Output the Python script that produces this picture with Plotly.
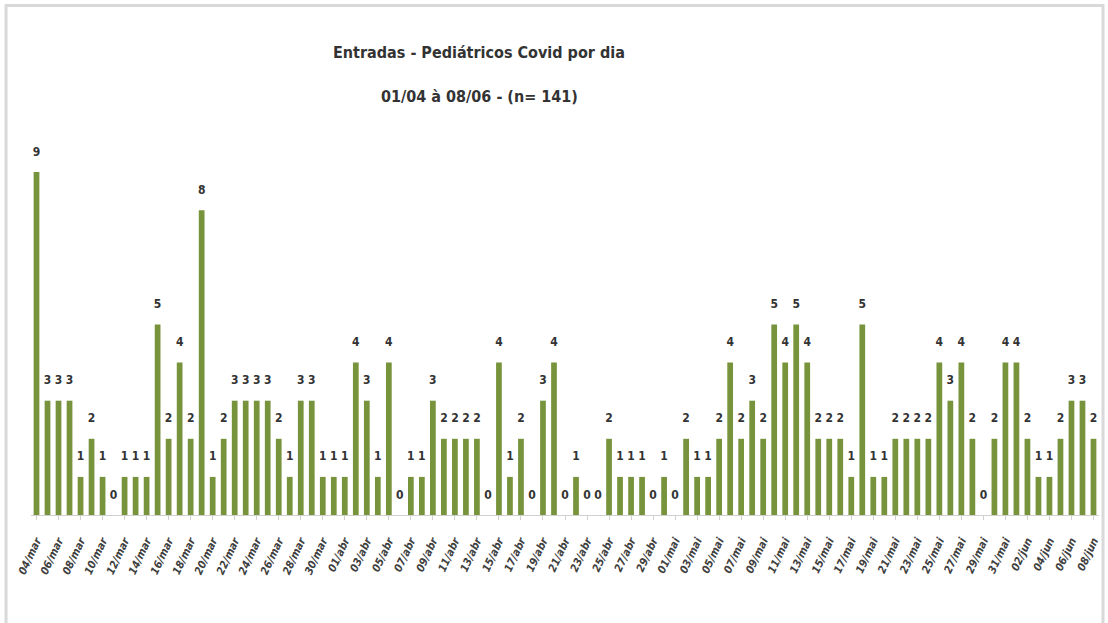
import plotly.graph_objects as go
import pandas as pd

# Data
start_date = "2021-03-04"
end_date = "2021-06-08"
month_pt = {3: "mar", 4: "abr", 5: "mai", 6: "jun"}
values = [9, 3, 3, 3, 1, 2, 1, 0, 1, 1, 1, 5, 2, 4, 2, 8, 1, 2, 3, 3,
          3, 3, 2, 1, 3, 3, 1, 1, 1, 4, 3, 1, 4, 0, 1, 1, 3, 2, 2, 2,
          2, 0, 4, 1, 2, 0, 3, 4, 0, 1, 0, 0, 2, 1, 1, 1, 0, 1, 0, 2,
          1, 1, 2, 4, 2, 3, 2, 5, 4, 5, 4, 2, 2, 2, 1, 5, 1, 1, 2, 2,
          2, 2, 4, 3, 4, 2, 0, 2, 4, 4, 2, 1, 1, 2, 3, 3, 2]
title_line1 = "Entradas - Pediátricos Covid por dia"
title_line2 = "01/04 à 08/06 - (n= 141)"

dates = pd.date_range(start_date, end_date, freq="D")
categories = [f"{d.day:02d}/{month_pt[d.month]}" for d in dates]
tick_labels = categories[::2]

W, H = 1108, 623
ml, mr, mt, mb = 31, 7, 134, 108
pw = W - ml - mr
ph = H - mt - mb

def px_x(x):
    return (x - ml) / pw

def px_y(y):
    return (H - mb - y) / ph

FONT = "DejaVu Sans Condensed, Liberation Sans Narrow, Roboto, sans-serif"

fig = go.Figure()
fig.add_trace(go.Bar(
    x=categories,
    y=values,
    marker=dict(color="#77933C", line=dict(width=0)),
    width=0.52,
    hoverinfo="x+y",
))
# data labels, lifted a little above the bar tops
fig.add_trace(go.Scatter(
    x=categories,
    y=values,
    mode="markers+text",
    marker=dict(size=20, color="rgba(0,0,0,0)"),
    text=[f"<b>{v}</b>" for v in values],
    textposition="top center",
    textfont=dict(family=FONT, size=12, color="#333333"),
    cliponaxis=False,
    hoverinfo="skip",
))

fig.update_layout(
    width=W, height=H,
    margin=dict(l=ml, r=mr, t=mt, b=mb),
    paper_bgcolor="white",
    plot_bgcolor="white",
    showlegend=False,
    font=dict(family=FONT, color="#404040"),
    xaxis=dict(
        type="category",
        tickmode="array",
        tickvals=tick_labels,
        ticktext=[f"<b><i>{t}</i></b>" for t in tick_labels],
        tickangle=-65,
        tickfont=dict(family=FONT, size=11, color="#404040"),
        showline=True, linecolor="#d0d0d0", linewidth=1,
        ticks="outside", ticklen=4, tickcolor="#d0d0d0",
        ticklabelstandoff=10,
        showgrid=False,
        range=[-0.5, len(categories) - 0.5],
    ),
    yaxis=dict(
        visible=False,
        range=[0, 10],
        showgrid=False,
        zeroline=False,
    ),
    annotations=[
        dict(text=f"<b>{title_line1}</b>", xref="paper", yref="paper",
             x=px_x(480), y=px_y(52), xanchor="center", yanchor="middle",
             showarrow=False, font=dict(family=FONT, size=16, color="#333333")),
        dict(text=f"<b>{title_line2}</b>", xref="paper", yref="paper",
             x=px_x(480), y=px_y(96), xanchor="center", yanchor="middle",
             showarrow=False, font=dict(family=FONT, size=16, color="#333333")),
    ],
    shapes=[
        dict(type="rect", xref="paper", yref="paper",
             x0=px_x(6), x1=px_x(1105), y0=px_y(640), y1=px_y(5.5),
             line=dict(color="#d9d9d9", width=3), fillcolor="rgba(0,0,0,0)",
             layer="below"),
    ],
)

fig.write_html(
    "out.html",
    config={"displayModeBar": False},
    post_script="document.body.style.margin='0';document.body.style.overflow='hidden';",
)
